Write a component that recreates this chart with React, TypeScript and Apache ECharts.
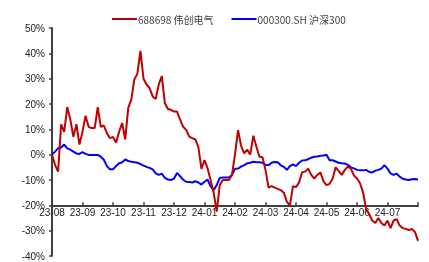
import React, { useEffect, useRef } from "react";
import * as echarts from "echarts";

const monthLabels = ["23-08", "23-09", "23-10", "23-11", "23-12", "24-01", "24-02", "24-03", "24-04", "24-05", "24-06", "24-07", ""];
const stepPerMonth = 10;

const weichuang = [
  0, -4, -6.7, 12, 9, 18.8, 14, 7, 12, 4,
  9, 15.4, 11, 10.5, 10.5, 18.8, 11, 11.5, 8.5, 6.5,
  7, 4.8, 9, 12.5, 6, 18.5, 21.7, 29.7, 32, 41,
  30, 27.7, 26.3, 23, 22, 27.7, 31, 20.4, 18, 17.7,
  17, 17, 13.8, 11, 9.8, 7.1, 6.5, 6, 3, -5.6,
  -2.1, -5.4, -10, -15, -22.5, -12, -10, -10, -10, -8,
  0, 9.7, 3.5, 0.5, 2, 0, 7.5, 3.2, -0.8, -1,
  -6, -13, -12.4, -13, -13.5, -14, -15, -18.6, -20, -12.5,
  -12.8, -11, -7, -6.7, -5.5, -8, -9.4, -8, -7, -10.5,
  -12, -11.5, -9.5, -5, -6.5, -8, -6, -4.7, -5.5, -8.2,
  -9.4, -11.3, -15, -21.5, -23.5, -26, -27, -25, -27, -28,
  -26, -29, -26, -25.5, -28, -29, -29.3, -29.8, -29.3, -30.5,
  -34,
];

const hs300 = [
  0, 1.2, 2.5, 2.8, 4, 2.5, 2, 1.2, 0.5, 0.3,
  1, 0.3, -0.1, -0.1, -0.1, -0.1, -0.8, -2, -4.5, -5.8,
  -5.8, -4.5, -3.4, -3, -1.9, -2.5, -2.8, -3, -3.2, -3.7,
  -4.3, -4.8, -5.2, -5.8, -7.4, -8, -7.5, -9.2, -9.8, -10,
  -9.4, -7.2, -8.5, -9.9, -10.7, -10.8, -11, -10.5, -11, -11.8,
  -10.7, -9.8, -12.5, -14, -12, -9.2, -9, -9, -9, -8,
  -5.6, -5.5, -4.7, -4.1, -3.4, -3.2, -2.8, -3, -3, -3.2,
  -4, -4.2, -3.2, -2.9, -3, -4.2, -4.8, -6, -4.5, -3.8,
  -4.5, -3.2, -2.3, -2.2, -1.8, -1.2, -0.8, -0.7, -0.4, -0.3,
  0, -2.2, -2.2, -2.7, -3.2, -3.4, -3.5, -4, -5, -5.4,
  -6, -6.2, -6.2, -6, -6.8, -7, -6.3, -6, -5.5, -4.1,
  -5.5, -7.4, -8, -7.5, -8.7, -9.5, -9.8, -10, -9.7, -9.6,
  -9.8,
];

const yMin = -40;
const yMax = 50;
const yInterval = 10;
const xAxisAt = -20;

const toPairs = (arr: number[]) => arr.map((v, i) => [i / stepPerMonth, v]);

export default function App() {
  const ref = useRef<HTMLDivElement>(null);
  useEffect(() => {
    if (!ref.current) return;
    const chart = echarts.init(ref.current, null, { renderer: "svg" });
    const gridTop = 28;
    const gridBottom = 6;
    const plotH = 262 - gridTop - gridBottom;
    const axisOffset = -plotH * (xAxisAt - yMin) / (yMax - yMin);
    const axisColor = "#404040";
    const labelFont = "Liberation Sans, Arial, sans-serif";
    chart.setOption({
      animation: false,
      textStyle: { fontFamily: labelFont },
      legend: {
        top: 9,
        left: 107,
        itemWidth: 25,
        itemHeight: 2,
        itemGap: 18,
        textStyle: {
          color: "#404040",
          fontSize: 10,
          padding: [0, 0, 0, -4],
          fontFamily: "Noto Sans CJK SC, sans-serif",
        },
        data: [
          { name: "688698 伟创电气", icon: "rect", itemStyle: { color: "#C00000" } },
          { name: "000300.SH 沪深300", icon: "rect", itemStyle: { color: "#0000FF" } },
        ],
      },
      grid: { left: 52, right: 11, top: gridTop, bottom: gridBottom, containLabel: false },
      xAxis: {
        type: "value",
        min: 0,
        max: monthLabels.length - 1,
        interval: 1,
        offset: axisOffset,
        axisLine: { onZero: false, lineStyle: { color: axisColor, width: 2 } },
        axisTick: { inside: true, length: 3, lineStyle: { color: axisColor, width: 1.5 } },
        axisLabel: {
          color: "#222",
          fontSize: 10,
          margin: 2,
          formatter: (v: number) => monthLabels[Math.round(v)] ?? "",
        },
        splitLine: { show: false },
      },
      yAxis: {
        type: "value",
        min: yMin,
        max: yMax,
        interval: yInterval,
        axisLine: { show: true, lineStyle: { color: axisColor, width: 2 } },
        axisTick: { show: true, inside: false, length: 3, lineStyle: { color: axisColor, width: 1.5 } },
        axisLabel: { color: "#222", fontSize: 10, margin: 7, formatter: (v: number) => `${v}%` },
        splitLine: { show: false },
      },
      series: [
        {
          name: "688698 伟创电气",
          type: "line",
          data: toPairs(weichuang),
          showSymbol: false,
          symbol: "none",
          lineStyle: { color: "#C00000", width: 2 },
          itemStyle: { color: "#C00000" },
          z: 3,
        },
        {
          name: "000300.SH 沪深300",
          type: "line",
          data: toPairs(hs300),
          showSymbol: false,
          symbol: "none",
          lineStyle: { color: "#0000FF", width: 2 },
          itemStyle: { color: "#0000FF" },
          z: 2,
        },
      ],
    });
    return () => chart.dispose();
  }, []);
  return <div ref={ref} style={{ position: "fixed", left: 0, top: 0, width: 429, height: 262 }} />;
}
